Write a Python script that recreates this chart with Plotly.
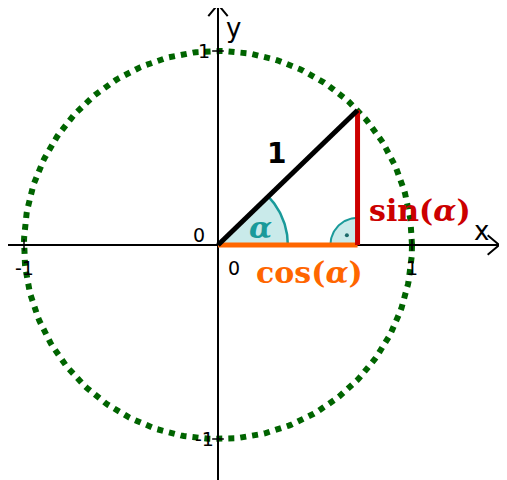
import numpy as np
import plotly.graph_objects as go

# data
alpha_deg = 44.0
radius = 1.0
x_ticks = [-1, 1]
x_tick_labels = ["-1", "1"]
y_ticks = [1, -1]
y_tick_labels = ["1", "-1"]

a = np.deg2rad(alpha_deg)
cx, cy = np.cos(a), np.sin(a)

S = 194.0
xr = [-210 / S, (507 - 210) / S]
yr = [-(480 - 237) / S, 237 / S]

fig = go.Figure()
t = np.linspace(0, 2 * np.pi, 400)
fig.add_trace(go.Scatter(x=radius*np.cos(t), y=radius*np.sin(t), mode="lines",
                         line=dict(color="#006400", width=6, dash="dot")))
r1 = 0.36
ta = np.linspace(0, a, 50)
fig.add_trace(go.Scatter(x=np.r_[0, r1*np.cos(ta), 0], y=np.r_[0, r1*np.sin(ta), 0],
                         mode="lines", fill="toself", fillcolor="rgba(40,170,170,0.25)",
                         line=dict(color="rgba(0,0,0,0)", width=0)))
fig.add_trace(go.Scatter(x=r1*np.cos(ta), y=r1*np.sin(ta), mode="lines",
                         line=dict(color="#1a9a9a", width=2.5)))
r2 = 0.14
tb = np.linspace(np.pi/2, np.pi, 30)
fig.add_trace(go.Scatter(x=np.r_[cx, cx + r2*np.cos(tb), cx], y=np.r_[0, r2*np.sin(tb), 0],
                         mode="lines", fill="toself", fillcolor="rgba(40,170,170,0.25)",
                         line=dict(color="rgba(0,0,0,0)", width=0)))
fig.add_trace(go.Scatter(x=cx + r2*np.cos(tb), y=r2*np.sin(tb), mode="lines",
                         line=dict(color="#1a9a9a", width=2)))
fig.add_trace(go.Scatter(x=[cx - 0.055], y=[0.05], mode="markers",
                         marker=dict(color="#1a6a6a", size=4)))
fig.add_trace(go.Scatter(x=[xr[0], 1.45], y=[0, 0], mode="lines", line=dict(color="black", width=2)))
fig.add_trace(go.Scatter(x=[0, 0], y=[yr[0], 1.24], mode="lines", line=dict(color="black", width=2)))
fig.add_trace(go.Scatter(x=[1.39, 1.45, 1.39], y=[0.05, 0, -0.05], mode="lines", line=dict(color="black", width=2)))
fig.add_trace(go.Scatter(x=[-0.05, 0, 0.05], y=[1.18, 1.24, 1.18], mode="lines", line=dict(color="black", width=2)))
for v in x_ticks:
    fig.add_trace(go.Scatter(x=[v, v], y=[-0.03, 0.03], mode="lines", line=dict(color="black", width=1.5)))
for v in y_ticks:
    fig.add_trace(go.Scatter(x=[-0.03, 0.03], y=[v, v], mode="lines", line=dict(color="black", width=1.5)))
fig.add_trace(go.Scatter(x=[0, cx], y=[0, 0], mode="lines", line=dict(color="#ff6600", width=5)))
fig.add_trace(go.Scatter(x=[cx, cx], y=[0, cy], mode="lines", line=dict(color="#cc0000", width=5)))
fig.add_trace(go.Scatter(x=[0, cx], y=[0, cy], mode="lines", line=dict(color="black", width=5)))

ann = []
f = dict(family="DejaVu Sans", size=19, color="black")
for v, l in zip(x_ticks, x_tick_labels):
    ann.append(dict(x=v, y=-0.12, text=l, font=f))
for v, l in zip(y_ticks, y_tick_labels):
    ann.append(dict(x=-0.07, y=v, text=l, font=f))
ann += [
    dict(x=0.08, y=-0.12, text="0", font=f),
    dict(x=-0.1, y=0.05, text="0", font=f),
    dict(x=1.36, y=0.07, text="x", font=dict(family="DejaVu Sans", size=26, color="black")),
    dict(x=0.08, y=1.12, text="y", font=dict(family="DejaVu Sans", size=26, color="black")),
    dict(x=0.3, y=0.47, text="<b>1</b>", font=dict(family="DejaVu Sans", size=28, color="black")),
    dict(x=0.22, y=0.09, text="<b><i>α</i></b>", font=dict(family="DejaVu Serif", size=30, color="#1a9a9a")),
    dict(x=1.04, y=0.18, text="<b>sin(<i>α</i>)</b>", font=dict(family="DejaVu Serif", size=30, color="#cc0000")),
    dict(x=0.47, y=-0.14, text="<b>cos(<i>α</i>)</b>", font=dict(family="DejaVu Serif", size=30, color="#ff6600")),
]
for d in ann:
    d["showarrow"] = False
fig.update_layout(width=507, height=480, margin=dict(l=0, r=0, t=0, b=0),
                  plot_bgcolor="white", paper_bgcolor="white", showlegend=False,
                  annotations=ann,
                  xaxis=dict(range=xr, visible=False, fixedrange=True),
                  yaxis=dict(range=yr, visible=False, fixedrange=True))
fig.write_html("out.html")
